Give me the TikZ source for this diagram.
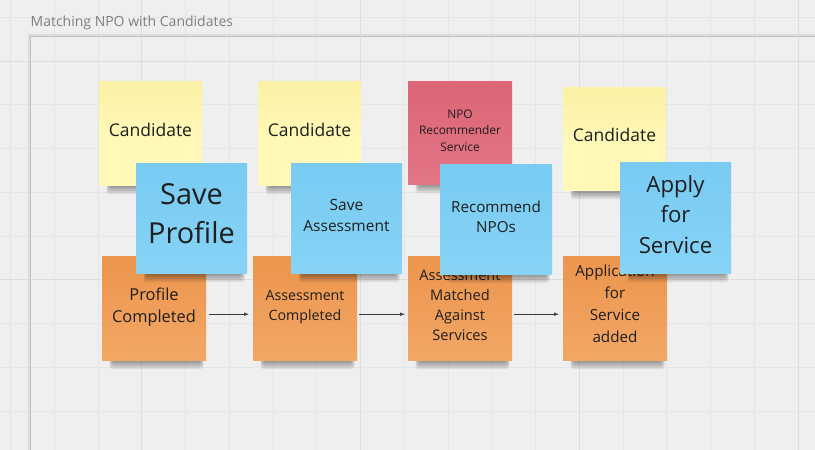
\documentclass[tikz,border=0pt]{standalone}
\usepackage{fontspec}
\setmainfont{Open Sans}
\usetikzlibrary{arrows.meta}
\definecolor{bg}{HTML}{EFEFEF}
\definecolor{gridminor}{HTML}{E5E5E5}
\definecolor{gridmajor}{HTML}{DDDDDD}
\definecolor{titlegray}{HTML}{7F7F7F}
\definecolor{framedark}{HTML}{C2C2C2}
\definecolor{framelight}{HTML}{DCDCDC}
\definecolor{ytop}{HTML}{FAF1A4}
\definecolor{ybot}{HTML}{FFF8B6}
\definecolor{btop}{HTML}{79CBF2}
\definecolor{bbot}{HTML}{86D3F6}
\definecolor{otop}{HTML}{EC954D}
\definecolor{obot}{HTML}{F2A765}
\definecolor{rtop}{HTML}{DC6576}
\definecolor{rbot}{HTML}{E27586}
\definecolor{inkc}{HTML}{1E1E1E}
\definecolor{arrowc}{HTML}{3A3A3A}
\newcommand\sfsz[2]{\fontsize{#1}{#2}\selectfont}
\newcommand\sticky[6]{%
  \foreach \k in {0,...,5}{%
    \fill[black,opacity=0.08,rounded corners=3pt]
      (#2+11-\k*0.7,#3+#5-12) rectangle (#2+#4-6+\k*0.7,#3+#5+1+\k*1.6);}
  \node[#6,minimum width=#4pt,minimum height=#5pt,anchor=north west,inner sep=0pt] (#1) at (#2,#3) {};
}
\tikzset{
  yellowsticky/.style={top color=ytop,bottom color=ybot,middle color=ybot},
  bluesticky/.style={top color=btop,bottom color=bbot},
  orangesticky/.style={top color=otop,bottom color=obot},
  redsticky/.style={top color=rtop,bottom color=rbot},
  stickytext/.style={text=inkc,align=center,anchor=base,inner sep=0pt},
  flowarrow/.style={draw=arrowc,line width=0.6pt,-{Latex[length=5pt,width=3.6pt]}},
}
\begin{document}
\begin{tikzpicture}[x=1pt,y=-1pt]
\useasboundingbox (0,0) rectangle (815,450);
\clip (0,0) rectangle (815,450);
\fill[bg] (0,0) rectangle (815,450);
% grid
\foreach \i in {0,...,18}{\draw[gridminor,line width=0.8pt] ({10.45+43.75*\i},0) -- ++(0,450);}
\foreach \i in {0,...,10}{\draw[gridminor,line width=0.8pt] (0,{17.25+43.75*\i}) -- ++(815,0);}
\foreach \xx in {141.7,360.45,579.2,797.95}{\draw[gridmajor,line width=0.9pt] (\xx,0) -- ++(0,450);}
\foreach \yy in {61,279.75}{\draw[gridmajor,line width=0.9pt] (0,\yy) -- ++(815,0);}
% title and frame
\node[anchor=base west,inner sep=0pt,text=titlegray,font=\sfsz{14}{17}] (title) at (30.5,26.5) {Matching NPO with Candidates};
\draw[framelight,line width=3pt] (29.5,35.5) rectangle (840,480);
\draw[framedark,line width=1pt] (30,36) rectangle (840,480);
% top row
\sticky{y1}{99}{81}{103}{104}{yellowsticky}
\node[stickytext,font=\sfsz{17.5}{23}] (y1t) at (150.5,136) {Candidate};
\sticky{y2}{258}{81}{103}{104}{yellowsticky}
\node[stickytext,font=\sfsz{17.5}{23}] (y2t) at (309.5,136) {Candidate};
\sticky{r1}{408}{81}{104}{103}{redsticky}
\node[stickytext,font=\sfsz{11.9}{16.5}] (r1t) at (460,151) {NPO\\Recommender\\Service};
\sticky{y3}{563}{87}{103}{103}{yellowsticky}
\node[stickytext,font=\sfsz{17.5}{23}] (y3t) at (614.5,141.5) {Candidate};
% bottom row
\sticky{o1}{102}{256}{104}{104}{orangesticky}
\node[stickytext,font=\sfsz{16.4}{22}] (o1t) at (154,322) {Profile\\Completed};
\sticky{o2}{253}{256}{104}{104}{orangesticky}
\node[stickytext,font=\sfsz{14.2}{20}] (o2t) at (305,320) {Assessment\\Completed};
\sticky{o3}{408}{256}{104}{104}{orangesticky}
\node[stickytext,font=\sfsz{14.6}{19.7}] (o3t) at (460,340) {Assessment\\Matched\\Against\\Services};
\sticky{o4}{563}{256}{104}{104}{orangesticky}
\node[stickytext,font=\sfsz{15.2}{22}] (o4t) at (615,342) {Application\\for\\Service\\added};
% arrows
\draw[flowarrow] ([xshift=3pt,yshift=-6pt]o1.east) -- ([xshift=-4pt,yshift=-6pt]o1.east -| o2.west);
\draw[flowarrow] ([xshift=2pt,yshift=-6pt]o2.east) -- ([xshift=-3pt,yshift=-6pt]o2.east -| o3.west);
\draw[flowarrow] ([xshift=2pt,yshift=-6pt]o3.east) -- ([xshift=-4pt,yshift=-6pt]o3.east -| o4.west);
% blue commands
\sticky{b1}{136}{163}{111}{110}{bluesticky}
\node[stickytext,font=\sfsz{28.9}{39}] (b1t) at (191.5,243) {Save\\Profile};
\sticky{b2}{291}{163}{111}{110}{bluesticky}
\node[stickytext,font=\sfsz{15.5}{21}] (b2t) at (346.5,231) {Save\\Assessment};
\sticky{b3}{440}{164}{112}{110}{bluesticky}
\node[stickytext,font=\sfsz{15.2}{20}] (b3t) at (496,232) {Recommend\\NPOs};
\sticky{b4}{620}{162}{111}{111}{bluesticky}
\node[stickytext,font=\sfsz{22.2}{30.5}] (b4t) at (675.5,253) {Apply\\for\\Service};
\end{tikzpicture}
\end{document}
